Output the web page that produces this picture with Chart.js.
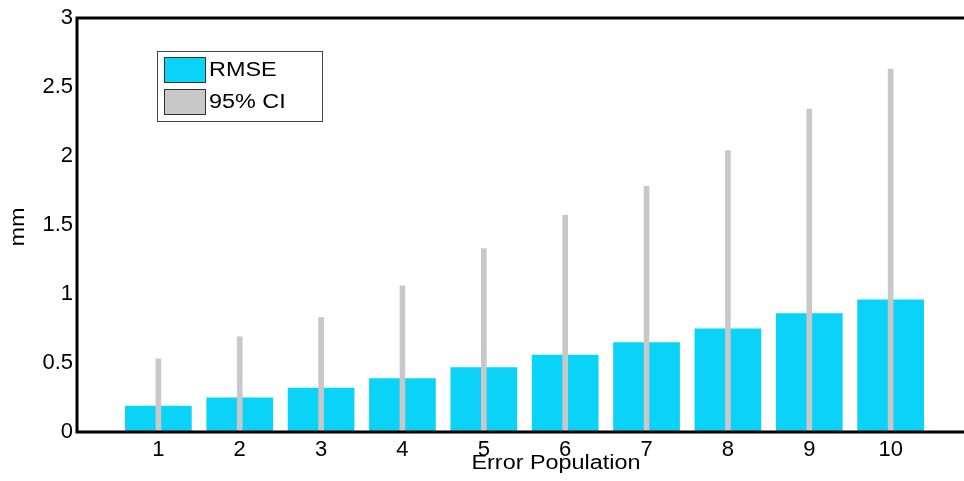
<!DOCTYPE html>
<html>
<head>
<meta charset="utf-8">
<script src="https://cdn.jsdelivr.net/npm/chart.js@4"></script>
<style>
  html, body { margin: 0; padding: 0; background: #fff; overflow: hidden; }
  #wrap { width: 980px; height: 481px; }
</style>
</head>
<body>
<div id="wrap"><canvas id="errChart" width="980" height="481"></canvas></div>
<script>
const populations = [1, 2, 3, 4, 5, 6, 7, 8, 9, 10];
const rmseValues = [0.19, 0.25, 0.32, 0.39, 0.47, 0.56, 0.65, 0.75, 0.86, 0.96];
const ciUpper = [0.53, 0.69, 0.83, 1.06, 1.33, 1.57, 1.78, 2.04, 2.34, 2.63];
const yTicks = [0, 0.5, 1, 1.5, 2, 2.5, 3];

const FONT = '"Liberation Sans", Arial, sans-serif';
const CYAN = '#0ad3f7';
const GREY = '#c8c8c8';

// stretched text, the labels are a bit wider than plain Arial
function wideText(ctx, txt, x, y, align) {
  ctx.save();
  ctx.translate(x, y);
  ctx.scale(1.17, 1);
  ctx.textAlign = align || 'left';
  ctx.textBaseline = 'middle';
  ctx.fillText(txt, 0, 0);
  ctx.restore();
}

// box, axis titles and legend
const decorPlugin = {
  id: 'decor',
  afterDraw(chart) {
    const ctx = chart.ctx;
    const a = chart.chartArea;
    ctx.save();
    ctx.strokeStyle = '#000';
    ctx.lineWidth = 3;
    ctx.beginPath();
    ctx.moveTo(a.right + 2, a.top);
    ctx.lineTo(a.left, a.top);
    ctx.lineTo(a.left, a.bottom);
    ctx.lineTo(a.right + 2, a.bottom);
    ctx.stroke();

    ctx.fillStyle = '#000';
    ctx.font = '20px ' + FONT;
    wideText(ctx, 'Error Population', 556, 463, 'center');

    ctx.save();
    ctx.translate(18, 227);
    ctx.rotate(-Math.PI / 2);
    wideText(ctx, 'mm', 0, 0, 'center');
    ctx.restore();

    // legend
    ctx.fillStyle = '#fff';
    ctx.fillRect(157, 51, 165, 70);
    ctx.lineWidth = 1;
    ctx.strokeStyle = '#444';
    ctx.strokeRect(157.5, 51.5, 165, 70);
    const items = [
      { label: chart.data.datasets[1].label, color: CYAN, y: 57 },
      { label: chart.data.datasets[0].label, color: GREY, y: 89 }
    ];
    items.forEach(it => {
      ctx.fillStyle = it.color;
      ctx.fillRect(164, it.y, 41, 25);
      ctx.strokeStyle = '#333';
      ctx.strokeRect(164.5, it.y + 0.5, 41, 25);
      ctx.fillStyle = '#000';
      wideText(ctx, it.label, 209, it.y + 13, 'left');
    });
    ctx.restore();
  }
};

new Chart(document.getElementById('errChart'), {
  type: 'bar',
  data: {
    datasets: [
      {
        label: '95% CI',
        data: populations.map((p, i) => ({ x: p, y: ciUpper[i] })),
        backgroundColor: GREY,
        barThickness: 5,
        order: 0
      },
      {
        label: 'RMSE',
        data: populations.map((p, i) => ({ x: p, y: rmseValues[i] })),
        backgroundColor: CYAN,
        categoryPercentage: 0.82,
        barPercentage: 1,
        order: 1
      }
    ]
  },
  options: {
    responsive: false,
    animation: false,
    grouped: false,
    layout: { padding: { top: 18, right: 8, left: 0, bottom: 0 } },
    plugins: {
      legend: { display: false },
      tooltip: { enabled: false }
    },
    scales: {
      x: {
        type: 'linear',
        offset: false,
        min: 0,
        max: 11,
        grid: { display: false, drawTicks: false, offset: false },
        border: { display: false },
        afterBuildTicks: s => { s.ticks = populations.map(v => ({ value: v })); },
        afterFit: s => { s.height = 49; },
        ticks: {
          color: '#000',
          font: { family: FONT, size: 22 },
          padding: 5,
          maxRotation: 0,
          callback: v => String(v)
        }
      },
      y: {
        min: 0,
        max: 3,
        grid: { display: false, drawTicks: false },
        border: { display: false },
        afterBuildTicks: s => { s.ticks = yTicks.map(v => ({ value: v })); },
        afterFit: s => { s.width = 77; },
        ticks: {
          color: '#000',
          font: { family: FONT, size: 22 },
          padding: 4,
          callback: v => String(v)
        }
      }
    }
  },
  plugins: [decorPlugin]
});
</script>
</body>
</html>
